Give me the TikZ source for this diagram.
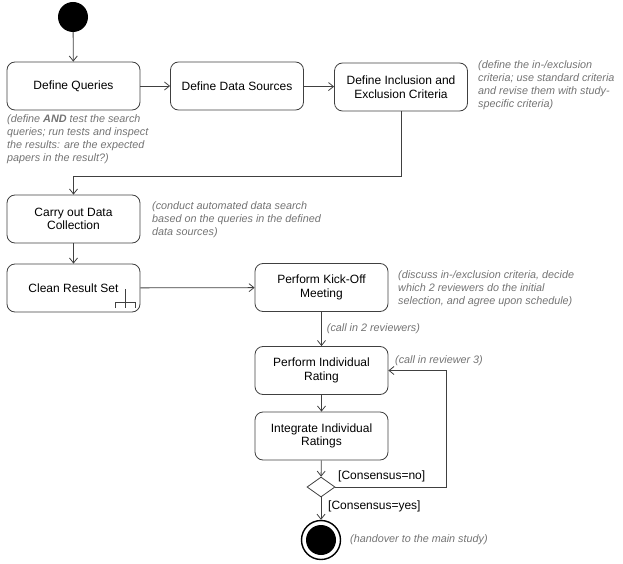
\documentclass[tikz,border=0pt]{standalone}
\usepackage{fontspec}
\setmainfont{Liberation Sans}
\usetikzlibrary{arrows.meta,shapes.geometric}

\begin{document}
\begin{tikzpicture}[
    x=1pt,
    y=-1pt,
    every node/.style={font=\fontsize{12}{13.5}\selectfont},
    action/.style={draw=black!75, rounded corners=8pt, line width=0.8pt, minimum width=133pt, minimum height=48pt, align=center, inner sep=0pt},
    note/.style={font=\fontsize{10.8}{13}\selectfont\itshape, text=black!55, align=left, anchor=north west, inner sep=0pt},
    guard/.style={anchor=west, inner sep=0pt},
    startdot/.style={circle, fill=black, inner sep=0pt, minimum size=30pt},
    finalring/.style={circle, draw=black, line width=1.4pt, inner sep=0pt, minimum size=39pt},
    decision/.style={diamond, draw=black!75, line width=0.8pt, inner sep=0pt, minimum width=28pt, minimum height=20pt, aspect=1.4},
    flow/.style={draw=black!75, line width=0.8pt, -{Straight Barb[length=5pt,width=8pt]}}
]
    \useasboundingbox (0,0) rectangle (623,564);

    % actions
    \node[startdot] (start) at (73,17) {};
    \node[action] (query) at (73.5,86) {Define Queries};
    \node[action] (sources) at (237,86) {Define Data Sources};
    \node[action] (criteria) at (401,87) {Define Inclusion and\\Exclusion Criteria};
    \node[action] (collect) at (73.5,219) {Carry out Data\\Collection};
    \node[action] (clean) at (73.5,288) {Clean Result Set};
    \node[action] (kickoff) at (321.5,287.5) {Perform Kick-Off\\Meeting};
    \node[action] (rating) at (321.5,370.5) {Perform Individual\\Rating};
    \node[action] (integrate) at (321.5,436) {Integrate Individual\\Ratings};
    \node[decision] (consensus) at (321,487) {};
    \node[finalring] (end) at (321,540) {};
    \node[startdot] (endcore) at (end) {};

    % call behaviour rake
    \draw[black!75, line width=0.8pt] (125,289) -- (125,308) (115,308) -- (115,302) -- (135,302) -- (135,308);

    % notes
    \node[note] (querynote) at (7,114) {(define \textbf{AND} test the search\\queries; run tests and inspect\\the results: are the expected\\papers in the result?)};
    \node[note] (criterianote) at (478,60) {(define the in-/exclusion\\criteria; use standard criteria\\and revise them with study-\\specific criteria)};
    \node[note] (collectnote) at (152,201) {(conduct automated data search\\based on the queries in the defined\\data sources)};
    \node[note] (kickoffnote) at (398,270) {(discuss in-/exclusion criteria, decide\\which 2 reviewers do the initial\\selection, and agree upon schedule)};
    \node[note] (endnote) at (350,534) {(handover to the main study)};

    % flows
    \coordinate (turn) at (401,176);
    \coordinate (loop) at (446,487);
    \draw[flow] (start) -- (query);
    \draw[flow] (query) -- (sources);
    \draw[flow] (sources) -- (criteria);
    \draw[flow] (criteria.south) -- (turn) -| (collect.north);
    \draw[flow] (collect) -- (clean);
    \draw[flow] (clean) -- (kickoff);
    \draw[flow] (kickoff) -- node[note, anchor=west, pos=0.5, xshift=5pt] (twocall) {(call in 2 reviewers)} (rating);
    \draw[flow] (rating) -- (integrate);
    \draw[flow] (integrate) -- (consensus);
    \draw[flow] (consensus.east) -- (loop) |- (rating.east);
    \draw[flow] (consensus.south) -- (end);

    % guards
    \node[note] (thirdcall) at (395,355) {(call in reviewer 3)};
    \node[guard] (guardno) at (338,476) {[Consensus=no]};
    \node[guard] (guardyes) at (328,506) {[Consensus=yes]};

\end{tikzpicture}
\end{document}
